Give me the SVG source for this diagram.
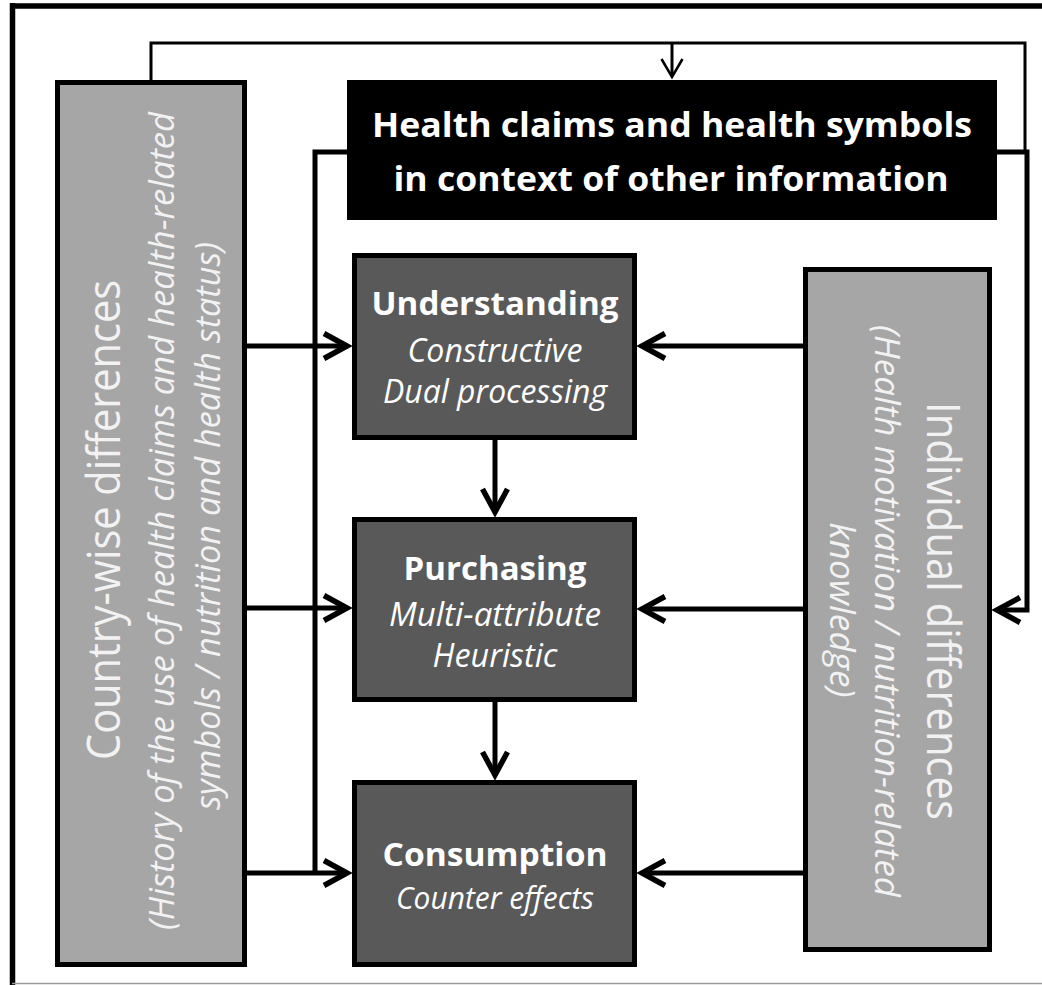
<svg xmlns="http://www.w3.org/2000/svg" width="1042" height="985" viewBox="0 0 1042 985">
  <style>
    .frame { fill: none; stroke: #000; stroke-width: 5.5; }
    .side { fill: #a6a6a6; stroke: #000; stroke-width: 5; }
    .stage { fill: #595959; stroke: #000; stroke-width: 5; }
    .info { fill: #000; }
    .title { font-family: "Open Sans", "Liberation Sans", sans-serif; font-weight: bold; fill: #fff; text-anchor: middle; }
    .sub { font-family: "Open Sans", "Liberation Sans", sans-serif; font-style: italic; fill: #fff; text-anchor: middle; }
    .vhead { font-family: "Open Sans", "Liberation Sans", sans-serif; font-weight: normal; fill: #f2f2f2; text-anchor: middle; font-size: 45px; }
    .vsub { font-family: "Open Sans", "Liberation Sans", sans-serif; font-style: italic; fill: #f2f2f2; text-anchor: middle; font-size: 34px; }
    .thick { fill: none; stroke: #000; stroke-width: 5; }
    .thin { fill: none; stroke: #000; stroke-width: 3; }
  </style>
  <defs>
    <marker id="chev" markerUnits="userSpaceOnUse" markerWidth="60" markerHeight="60" refX="0" refY="0" orient="auto" overflow="visible">
      <path d="M-23,-12.5 L0,0 L-23,12.5" fill="none" stroke="#000" stroke-width="5.5" stroke-linejoin="miter" stroke-miterlimit="10"/>
    </marker>
    <marker id="chev-thin" markerUnits="userSpaceOnUse" markerWidth="40" markerHeight="40" refX="0" refY="0" orient="auto" overflow="visible">
      <path d="M-18,-10.5 L0,0 L-18,10.5" fill="none" stroke="#000" stroke-width="2.5" stroke-linejoin="miter"/>
    </marker>
  </defs>

  <rect width="1042" height="985" fill="#fff"/>

  <!-- outer frame -->
  <g id="frame">
    <path class="frame" d="M10,6 H1042 M12.5,3 V985"/>
    <path d="M12,983.5 H1042" stroke="#9a9a9a" stroke-width="1.5" fill="none"/>
  </g>

  <!-- connectors -->
  <g id="connectors">
    <path class="thin" d="M151,80 V43 H1025 V150"/>
    <path class="thin" d="M672,43 V77" marker-end="url(#chev-thin)"/>
    <path class="thick" d="M347,152 H315 V873"/>
    <path class="thick" d="M997,152 H1027 V610 H997" marker-end="url(#chev)"/>
    <path class="thick" d="M247,346 H347" marker-end="url(#chev)"/>
    <path class="thick" d="M247,608 H347" marker-end="url(#chev)"/>
    <path class="thick" d="M247,873 H347" marker-end="url(#chev)"/>
    <path class="thick" d="M803,346 H642" marker-end="url(#chev)"/>
    <path class="thick" d="M803,609 H642" marker-end="url(#chev)"/>
    <path class="thick" d="M803,873 H642" marker-end="url(#chev)"/>
    <path class="thick" d="M495,440 V512" marker-end="url(#chev)"/>
    <path class="thick" d="M495,702 V775" marker-end="url(#chev)"/>
  </g>

  <!-- information box -->
  <g id="health-claims">
    <rect class="info" x="347" y="80" width="650" height="140"/>
    <text class="title" x="672" y="137" font-size="34" textLength="600" lengthAdjust="spacingAndGlyphs">Health claims and health symbols</text>
    <text class="title" x="671" y="191" font-size="34" textLength="555" lengthAdjust="spacingAndGlyphs">in context of other information</text>
  </g>

  <!-- country-wise differences -->
  <g id="country-wise">
    <rect class="side" x="57.5" y="82.5" width="187" height="882"/>
    <text class="vhead" transform="translate(120,520) rotate(-90)" textLength="480" lengthAdjust="spacingAndGlyphs">Country-wise differences</text>
    <text class="vsub" transform="translate(174,521) rotate(-90)" textLength="818" lengthAdjust="spacingAndGlyphs">(History of the use of health claims and health-related</text>
    <text class="vsub" transform="translate(220,526) rotate(-90)" textLength="568" lengthAdjust="spacingAndGlyphs">symbols / nutrition and health status)</text>
  </g>

  <!-- individual differences -->
  <g id="individual">
    <rect class="side" x="805.5" y="269.5" width="184" height="680"/>
    <text class="vhead" transform="translate(927,611) rotate(90)" textLength="418" lengthAdjust="spacingAndGlyphs">Individual differences</text>
    <text class="vsub" transform="translate(875,611) rotate(90)" textLength="572" lengthAdjust="spacingAndGlyphs">(Health motivation / nutrition-related</text>
    <text class="vsub" transform="translate(830,610) rotate(90)" textLength="175" lengthAdjust="spacingAndGlyphs">knowledge)</text>
  </g>

  <!-- stages -->
  <g id="understanding">
    <rect class="stage" x="354.5" y="255.5" width="280" height="182"/>
    <text class="title" x="495" y="315" font-size="33" textLength="247" lengthAdjust="spacingAndGlyphs">Understanding</text>
    <text class="sub" x="495" y="362" font-size="32" textLength="175" lengthAdjust="spacingAndGlyphs">Constructive</text>
    <text class="sub" x="495" y="403" font-size="32" textLength="224" lengthAdjust="spacingAndGlyphs">Dual processing</text>
  </g>

  <g id="purchasing">
    <rect class="stage" x="354.5" y="519.5" width="280" height="180"/>
    <text class="title" x="495" y="580" font-size="33" textLength="183" lengthAdjust="spacingAndGlyphs">Purchasing</text>
    <text class="sub" x="495" y="626" font-size="32" textLength="212" lengthAdjust="spacingAndGlyphs">Multi-attribute</text>
    <text class="sub" x="495" y="667" font-size="32" textLength="125" lengthAdjust="spacingAndGlyphs">Heuristic</text>
  </g>

  <g id="consumption">
    <rect class="stage" x="354.5" y="782.5" width="280" height="182"/>
    <text class="title" x="495" y="866" font-size="32" textLength="225" lengthAdjust="spacingAndGlyphs">Consumption</text>
    <text class="sub" x="495" y="909" font-size="31" textLength="198" lengthAdjust="spacingAndGlyphs">Counter effects</text>
  </g>
</svg>
